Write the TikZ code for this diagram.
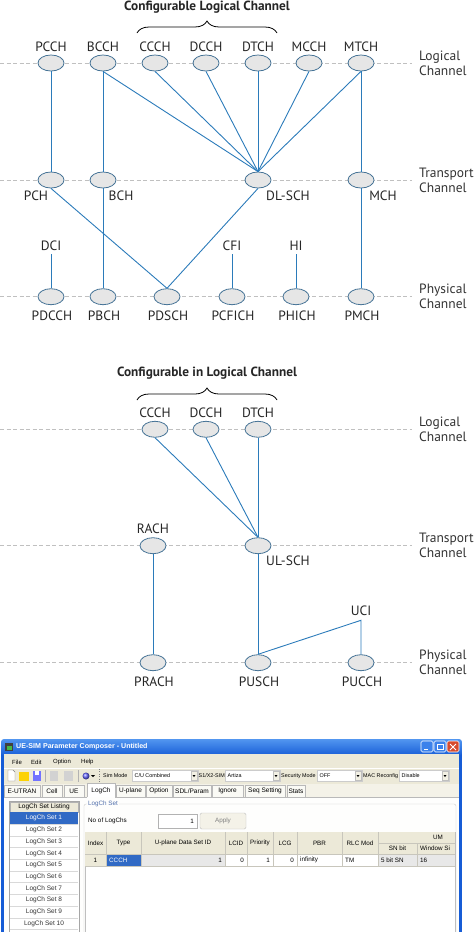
\documentclass[tikz,border=0pt]{standalone}
\usepackage{fontspec}
\setmainfont{PT Sans}
\newfontfamily\uifont{Liberation Sans}
\usetikzlibrary{shapes.geometric,decorations.pathreplacing}
\definecolor{lnblue}{RGB}{43,123,186}
\definecolor{elbord}{RGB}{70,115,150}
\definecolor{elfill}{RGB}{230,230,230}
\definecolor{dashgr}{RGB}{192,192,192}
\definecolor{xpblue}{RGB}{22,92,214}
\definecolor{xplite}{RGB}{82,150,240}
\definecolor{xpbtn}{RGB}{60,130,235}
\definecolor{xpred}{RGB}{215,75,45}
\definecolor{xpface}{RGB}{236,233,216}
\definecolor{selblue}{RGB}{49,106,197}
\definecolor{gridln}{RGB}{200,198,188}
\definecolor{grptxt}{RGB}{80,110,170}
\tikzset{
  ch/.style={ellipse,draw=elbord,fill=elfill,line width=0.8pt,minimum width=26pt,minimum height=16pt,inner sep=0pt},
  lk/.style={lnblue,line width=0.9pt},
  lbl/.style={font=\fontsize{13.5}{15}\selectfont,text=black!85,inner sep=1pt},
  side/.style={font=\fontsize{13.5}{15}\selectfont,text=black!80,align=left,anchor=west,inner sep=0pt},
  ttl/.style={font=\bfseries\fontsize{13.3}{15}\selectfont,text=black!85},
  brc/.style={decorate,decoration={brace,amplitude=12pt},line width=0.8pt},
  lvl/.style={dashgr,dash pattern=on 4pt off 2.5pt,line width=0.7pt},
  ui/.style={font=\uifont\fontsize{6.3}{7}\selectfont,inner sep=0pt},
  uitool/.style={font=\uifont\fontsize{5.4}{6.5}\selectfont,inner sep=0pt},
  uitab/.style={font=\uifont\fontsize{6.5}{7.5}\selectfont,inner sep=0pt},
}
\begin{document}
\begin{tikzpicture}[x=1pt,y=-1pt]
\useasboundingbox (0,0) rectangle (476,932);

\node[ttl] (ttldl) at (207,7) {Configurable Logical Channel};
\draw[brc] (137,33) -- (277,33);

\foreach \y/\t/\i in {63/Logical/1,180/Transport/2,296.7/Physical/3,429.3/Logical/4,545.7/Transport/5,662.7/Physical/6}
{
    \draw[lvl] (0,\y) -- (412,\y);
    \node[side] (lay\i) at (419,\y) {\t\\Channel};
}

\foreach \n/\x/\t in {pcch/51/PCCH,bcch/103/BCCH,ccch/155/CCCH,dcch/206/DCCH,dtch/258/DTCH,mcch/309/MCCH,mtch/361/MTCH}
{
    \node[ch] (\n) at (\x,63) {};
    \node[lbl] (t\n) at (\x,47) {\t};
}
\foreach \n/\x/\lx/\t in {pch/51/36/PCH,bch/103/121/BCH,dlsch/258/288/DL-SCH,mch/361/383/MCH}
{
    \node[ch] (\n) at (\x,180) {};
    \node[lbl] (t\n) at (\lx,196) {\t};
}
\foreach \n/\x/\t in {pdcch/51/PDCCH,pbch/103/PBCH,pdsch/167/PDSCH,pcfich/232/PCFICH,phich/296/PHICH,pmch/361/PMCH}
{
    \node[ch] (\n) at (\x,296.7) {};
    \node[lbl] (t\n) at (\x+1,315.6) {\t};
}
\foreach \n/\x/\t/\p in {dci/51/DCI/pdcch,cfi/232/CFI/pcfich,hi/296/HI/phich}
{
    \node[lbl,inner sep=3.5pt] (\n) at (\x,245.7) {\t};
    \draw[lk] (\n) -- (\p);
}
\foreach \n in {bcch,ccch,dcch,dtch,mcch,mtch}
    \draw[lk] (\n.south) -- (dlsch.north);
\draw[lk] (pcch) -- (pch);
\draw[lk] (bcch) -- (bch);
\draw[lk] (bch) -- (pbch);
\draw[lk] (mtch) -- (mch);
\draw[lk] (mch) -- (pmch);
\draw[lk] (pch.south) -- (pdsch.north);
\draw[lk] (dlsch.south) -- (pdsch.north);

\node[ttl] (ttlul) at (207,373) {Configurable in Logical Channel};
\draw[brc] (137,400) -- (277,400);
\foreach \n/\x/\t in {ulccch/155/CCCH,uldcch/206/DCCH,uldtch/258/DTCH}
{
    \node[ch] (\n) at (\x,429.3) {};
    \node[lbl] (t\n) at (\x,412.7) {\t};
}
\node[ch] (rach) at (153,545.7) {};
\node[lbl] (trach) at (153,529) {RACH};
\node[ch] (ulsch) at (258,545.7) {};
\node[lbl] (tulsch) at (288,560.7) {UL-SCH};
\foreach \n/\x/\t in {prach/153/PRACH,pusch/258/PUSCH,pucch/361/PUCCH}
{
    \node[ch] (\n) at (\x,662.7) {};
    \node[lbl] (t\n) at (\x+1,681.7) {\t};
}
\node[lbl,inner sep=4.5pt] (uci) at (361,610.7) {UCI};
\foreach \n in {ulccch,uldcch,uldtch}
    \draw[lk] (\n.south) -- (ulsch.north);
\draw[lk] (rach) -- (prach);
\draw[lk] (ulsch) -- (pusch);
\draw[lk] (pusch.north) -- (uci.south) -- (pucch.north);

\begin{scope}
\clip (0,736) rectangle (476,932);
\fill[xpblue] (1,748) rectangle (462,940);
\shade[top color=xplite,bottom color=xpblue,rounded corners=3pt] (1,739) rectangle (462,756);
\fill[xpface] (4,754) rectangle (459,940);
\fill[black!75] (5,743) rectangle (13,751);
\fill[green!45!gray] (6.5,745.5) rectangle (11.5,749.5);
\node[font=\uifont\bfseries\fontsize{7.1}{8}\selectfont,text=white,anchor=west,inner sep=0pt] (wintitle) at (16,747) {UE-SIM Parameter Composer - Untitled};
\foreach \x/\c in {421/xpbtn,434/xpbtn,447/xpred}
    \draw[white,line width=0.6pt,fill=\c,rounded corners=1.5pt] (\x,741) rectangle ++(12,11);
\draw[white,line width=1pt] (424,749.5) -- (428,749.5);
\draw[white,line width=0.7pt] (437,744) rectangle (443,749.5);
\draw[white,line width=1pt] (450,744) -- (456,750) (456,744) -- (450,750);

\foreach \t/\x in {File/12,Edit/31,Option/53,Help/81}
    \node[uitool,font=\uifont\fontsize{6}{7}\selectfont,anchor=west] (m\t) at (\x,762) {\t};
\draw[white] (4,768) -- (459,768);

\draw[gray,fill=white] (8,770) -- (13,770) -- (15,772) -- (15,781) -- (8,781) -- cycle;
\fill[yellow!70!orange] (19,772) rectangle (29,781);
\fill[blue!55] (33,771) rectangle (41,781);
\fill[white] (35,771) rectangle (39,775);
\fill[gray!35] (50,771) rectangle (58,781);
\fill[gray!35] (64,771) rectangle (73,781);
\draw[gray!60] (45,770) -- (45,782) (78,770) -- (78,782);
\shade[ball color=blue!60] (86,776) circle (3.5);
\fill (91,775) -- (95,775) -- (93,777) -- cycle;
\draw[gray,dotted] (99,769) -- (99,783);
\foreach \l/\lx/\ca/\cb/\v [count=\i] in {{Sim Mode}/103/132/198/{C/U Combined},{S1/X2-SIM}/198.5/225/280/Artiza,{Security Mode}/281/317/362/OFF,{MAC Reconfig}/363/399/449/Disable}
{
    \node[uitool,anchor=west] (cbl\i) at (\lx,776) {\l};
    \draw[gray!40,fill=white] (\ca,770.5) rectangle (\cb,781);
    \node[uitool,anchor=west] (cbv\i) at (\ca+2.5,776) {\v};
    \draw[gray!50,fill=xpface!70!white] (\cb-7,771.5) rectangle (\cb-1,780);
    \fill (\cb-5.5,775) -- (\cb-2.5,775) -- (\cb-4,777) -- cycle;
}

\fill[white!96!xpface] (4,797) rectangle (459,940);
\fill[xpface!60!white] (4,784) rectangle (459,797);
\foreach \t/\a/\b [count=\i] in {E-UTRAN/4/40,Cell/42/62,UE/64/84,U-plane/116/145,Option/146/172,{SDL/Param}/173/211,Ignore/212/243,{Seq Setting}/245/285,Stats/287/305}
{
    \draw[gray!55,fill=xpface!25!white] (\a,785.5) rectangle (\b,797);
    \node[uitab] (tab\i) at ({(\a+\b)/2},791) {\t};
}
\draw[gray!55] (4,797) -- (87,797) (115,797) -- (459,797);
\draw[gray!55,fill=white] (87,797) -- (87,783.5) -- (115,783.5) -- (115,797);
\node[uitab] (tabsel) at (101,790.5) {LogCh};

\draw[gray!70,fill=white] (9,801) rectangle (79,940);
\draw[gray!60,fill=xpface] (10,802) rectangle (78,812.4);
\node[uitab] (lsthd) at (44,807) {LogCh Set Listing};
\fill[selblue] (10,812.4) rectangle (78,824.1);
\foreach \i in {1,...,10}
{
    \draw[gray!30] (10,{812.4+\i*11.7}) -- (78,{812.4+\i*11.7});
    \node[uitab,text=black!80] (lst\i) at (44,{818.3+(\i-1)*11.7}) {LogCh Set \i};
}
\node[uitab,text=white,fill=selblue] (lstsel) at (44,818.3) {LogCh Set 1};

\draw[gray!40,rounded corners=2pt] (84,804) rectangle (456,940);
\node[ui,text=grptxt,fill=white!96!xpface,inner xsep=1pt] (grp) at (103,804) {LogCh Set};
\node[ui,anchor=west] (nolbl) at (88,821) {No of LogChs};
\draw[gray!60,fill=white] (158,814) rectangle (197,828);
\node[ui,anchor=east] (noval) at (194,821) {1};
\draw[gray!50,fill=xpface!60!white,rounded corners=1.5pt] (200,813) rectangle (246,829);
\node[ui,text=gray] (apply) at (223,821) {Apply};

\draw[gray!50,fill=white] (85,832) rectangle (455,940);
\fill[xpface] (85,832) rectangle (455,854);
\fill[xpface] (85,854) rectangle (106,866);
\fill[selblue] (106,854) rectangle (141,866);
\fill[gray!18] (141,854) rectangle (225,866);
\fill[gray!18] (378,854) rectangle (455,866);
\foreach \x in {106,141,225,247,273,297,342,378}
    \draw[gridln] (\x,832) -- (\x,866);
\draw[gridln] (417,843) -- (417,866) (378,843) -- (455,843);
\draw[gridln] (85,854) -- (455,854) (85,866) -- (455,866);
\foreach \t/\x [count=\i] in {Index/95.5,Type/123.5,U-plane Data Set ID/183,LCID/236,Priority/260,LCG/285,PBR/319.5,RLC Mod/360}
    \node[ui] (hd\i) at (\x,843) {\t};
\node[ui] (hdum) at (438,837.5) {UM};
\node[ui] (hdsn) at (397.5,848.5) {SN bit};
\node[ui,anchor=west] (hdwin) at (420,848.5) {Window Si};
\node[ui] (dt1) at (95.5,860) {1};
\node[ui,anchor=west,text=white] (dt2) at (109,860) {CCCH};
\node[ui,anchor=east] (dt3) at (222,860) {1};
\node[ui,anchor=east] (dt4) at (244,860) {0};
\node[ui,anchor=east] (dt5) at (270,860) {1};
\node[ui,anchor=east] (dt6) at (294,860) {0};
\node[ui,anchor=west] (dt7) at (300,860) {infinity};
\node[ui,anchor=west] (dt8) at (345,860) {TM};
\node[ui,anchor=west] (dt9) at (381,860) {5 bit SN};
\node[ui,anchor=west] (dt10) at (420,860) {16};
\end{scope}

\end{tikzpicture}
\end{document}
